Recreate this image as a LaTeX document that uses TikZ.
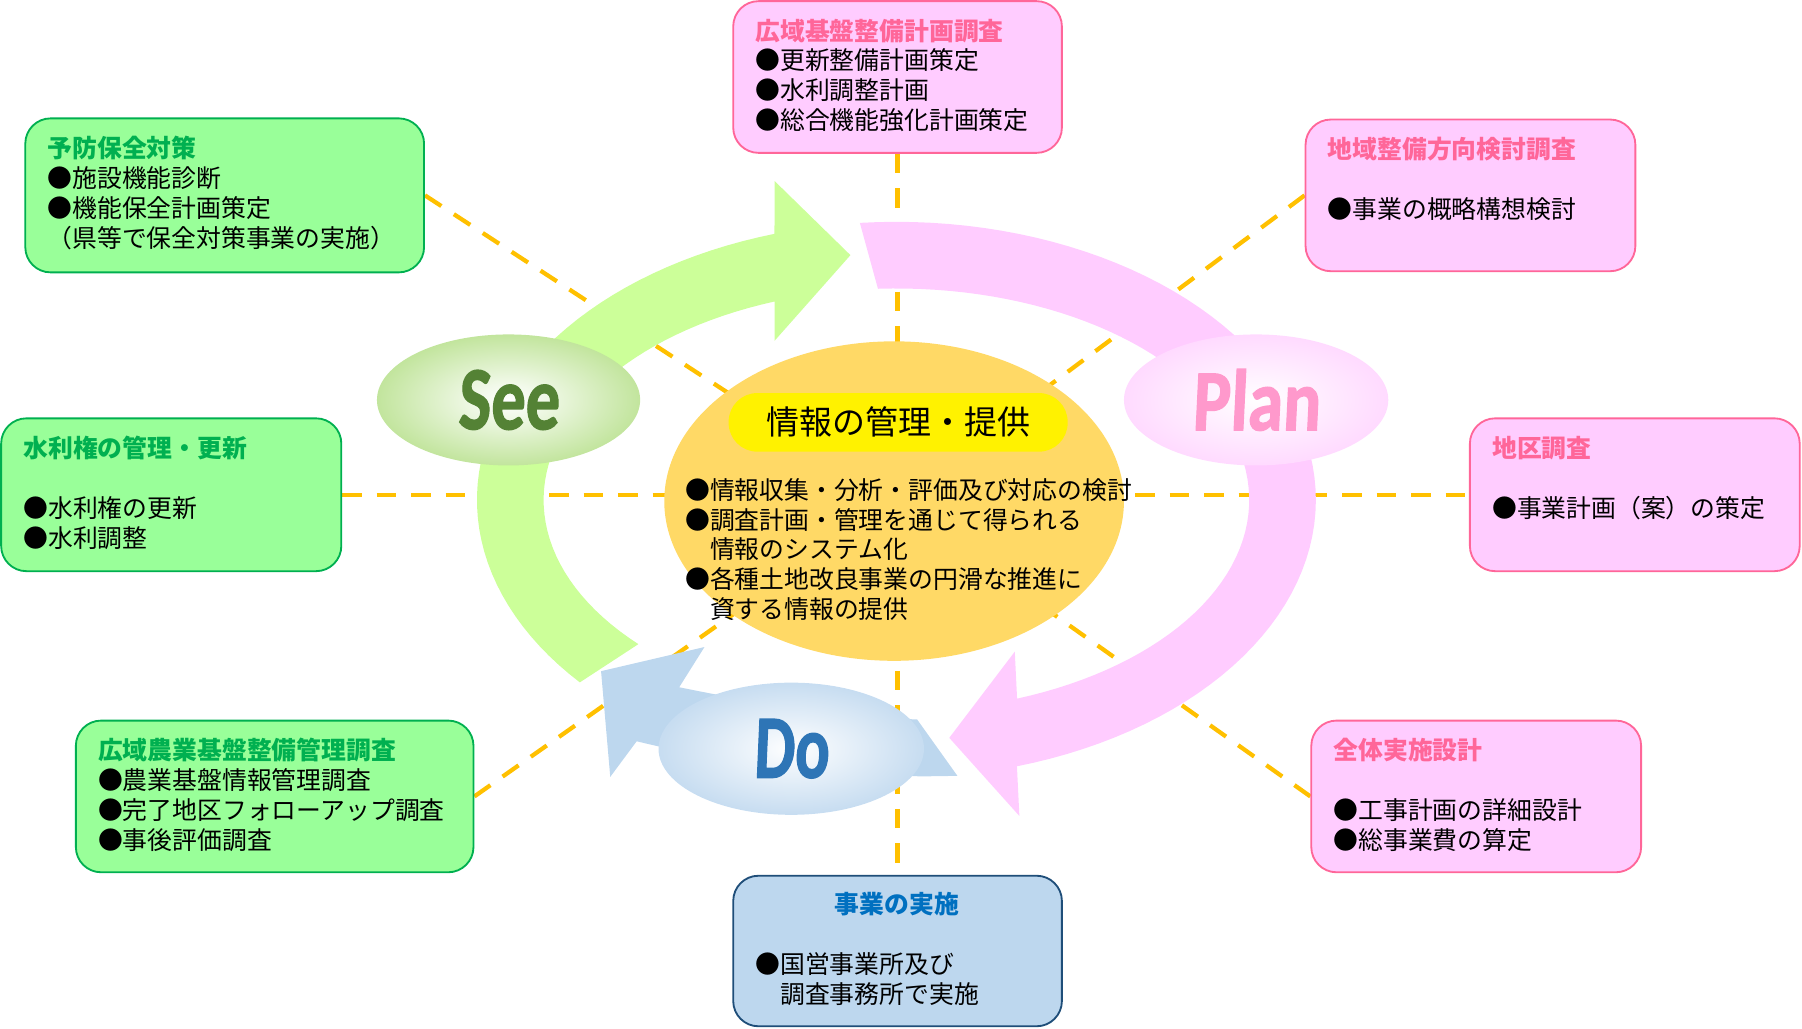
\documentclass[tikz,border=0pt]{standalone}
\usepackage{fontspec}
\usepackage{graphicx}
\setmainfont{Noto Sans CJK JP}
\newfontfamily\pdcafont{Carlito}[BoldFeatures={FakeBold=1.6, FakeSlant=0.06}]
\usetikzlibrary{shapes.geometric,positioning,backgrounds}

\definecolor{boxgreen}{HTML}{99FF99}
\definecolor{linegreen}{HTML}{00B050}
\definecolor{boxpink}{HTML}{FFCCFF}
\definecolor{linepink}{HTML}{FF6699}
\definecolor{boxblue}{HTML}{BDD7EE}
\definecolor{lineblue}{HTML}{1F4E79}
\definecolor{titleblue}{HTML}{0070C0}
\definecolor{dashorange}{HTML}{FFC000}
\definecolor{infoorange}{HTML}{FFD966}
\definecolor{arrowgreen}{HTML}{CCFF99}
\definecolor{arrowpink}{HTML}{FFCCFF}
\definecolor{arrowblue}{HTML}{BDD7EE}
\definecolor{seegreen}{HTML}{92D050}
\definecolor{seetext}{HTML}{548235}
\definecolor{planpink}{HTML}{FFC4FF}
\definecolor{plantext}{HTML}{FF99CC}
\definecolor{doblue}{HTML}{9DC3E6}
\definecolor{dotext}{HTML}{2E75B6}

\pgfdeclareradialshading{seeshade}{\pgfpoint{0bp}{0bp}}{color(0bp)=(white); color(6bp)=(white!88!seegreen); color(44bp)=(seegreen); color(50bp)=(seegreen)}
\pgfdeclareradialshading{planshade}{\pgfpoint{0bp}{0bp}}{color(0bp)=(white); color(6bp)=(white!85!planpink); color(40bp)=(planpink); color(50bp)=(planpink)}
\pgfdeclareradialshading{doshade}{\pgfpoint{0bp}{0bp}}{color(0bp)=(white); color(6bp)=(white!85!doblue); color(44bp)=(doblue); color(50bp)=(doblue)}

\newcommand\boxtitle[2]{{\bfseries\color{#1}#2}}
\newcommand\pdcaword[4]{\scalebox{#3}[#4]{\pdcafont\bfseries\fontsize{70pt}{70pt}\selectfont\color{#1}#2}}

\tikzset{
  gbox/.style={draw=linegreen, fill=boxgreen, line width=1.6pt, rounded corners=22pt, inner sep=0pt},
  pbox/.style={draw=linepink, fill=boxpink, line width=1.6pt, rounded corners=22pt, inner sep=0pt},
  bbox/.style={draw=lineblue, fill=boxblue, line width=1.6pt, rounded corners=22pt, inner sep=0pt},
  boxtext/.style={anchor=north west, inner sep=0pt, align=left, font=\fontsize{21.6pt}{26pt}\selectfont},
  guide/.style={draw=dashorange, line width=3.7pt, dash pattern=on 17pt off 13pt},
  pdca/.style={ellipse, inner sep=0pt},
}

\begin{document}
\begin{tikzpicture}[x=1pt, y=-1pt]
  \useasboundingbox (0,0) rectangle (1568,895);

  % centre
  \node [ellipse, fill=infoorange, minimum width=400pt, minimum height=278pt] (info) at (778,436) {};
  \node [fill=yellow, rounded corners=25pt, minimum width=295pt, minimum height=51pt, inner sep=0pt,
         font=\fontsize{28.7pt}{30pt}\selectfont] (infoTitle) at (781.5,367.5) {情報の管理・提供};
  \node [boxtext] (infoText) at (596,416) {●情報収集・分析・評価及び対応の検討\\●調査計画・管理を通じて得られる\\　情報のシステム化\\●各種土地改良事業の円滑な推進に\\　資する情報の提供};

  % boxes round the cycle
  \node [gbox, minimum width=347pt, minimum height=134pt] (yobou) at (195.5,170) {};
  \node [boxtext] (yobouText) at ([shift={(20,16)}]yobou.north west) {\boxtitle{linegreen}{予防保全対策}\\●施設機能診断\\●機能保全計画策定\\（県等で保全対策事業の実施）};

  \node [gbox, minimum width=296pt, minimum height=133pt] (suiriken) at (149,430.5) {};
  \node [boxtext] (suirikenText) at ([shift={(20,16)}]suiriken.north west) {\boxtitle{linegreen}{水利権の管理・更新}\\[26pt]●水利権の更新\\●水利調整};

  \node [gbox, minimum width=346pt, minimum height=132pt] (kanriChousa) at (239,693) {};
  \node [boxtext] (kanriChousaText) at ([shift={(20,16)}]kanriChousa.north west) {\boxtitle{linegreen}{広域農業基盤整備管理調査}\\●農業基盤情報管理調査\\●完了地区フォローアップ調査\\●事後評価調査};

  \node [pbox, minimum width=286pt, minimum height=132pt] (keikakuChousa) at (781,67) {};
  \node [boxtext] (keikakuChousaText) at ([shift={(20,16)}]keikakuChousa.north west) {\boxtitle{linepink}{広域基盤整備計画調査}\\●更新整備計画策定\\●水利調整計画\\●総合機能強化計画策定};

  \node [pbox, minimum width=287pt, minimum height=132pt] (houkou) at (1279.5,170) {};
  \node [boxtext] (houkouText) at ([shift={(20,16)}]houkou.north west) {\boxtitle{linepink}{地域整備方向検討調査}\\[26pt]●事業の概略構想検討};

  \node [pbox, minimum width=287pt, minimum height=133pt] (chiku) at (1422.5,430.5) {};
  \node [boxtext] (chikuText) at ([shift={(20,16)}]chiku.north west) {\boxtitle{linepink}{地区調査}\\[26pt]●事業計画（案）の策定};

  \node [pbox, minimum width=287pt, minimum height=132pt] (jisshi) at (1284.5,693) {};
  \node [boxtext] (jisshiText) at ([shift={(20,16)}]jisshi.north west) {\boxtitle{linepink}{全体実施設計}\\[26pt]●工事計画の詳細設計\\●総事業費の算定};

  \node [bbox, minimum width=286pt, minimum height=131pt] (jigyou) at (781,827.5) {};
  \node [boxtext] (jigyouText) at ([shift={(20,15)}]jigyou.north west) {\hspace*{69pt}\boxtitle{titleblue}{事業の実施}\\[26pt]●国営事業所及び\\　調査事務所で実施};

  % See / Plan / Do
  \node [pdca, shading=seeshade, minimum width=229pt, minimum height=114pt] (see) at (442.5,348) {\pdcaword{seetext}{See}{0.85}{1.12}};
  \node [pdca, shading=planshade, minimum width=230pt, minimum height=114pt] (plan) at (1093,348) {\pdcaword{plantext}{Plan}{0.88}{1.08}};
  \node [pdca, shading=doshade, minimum width=231pt, minimum height=115pt] (do) at (688.5,651.5) {\pdcaword{dotext}{Do}{0.8}{1.12}};

  \begin{scope}[on background layer]
    \draw [guide] (suiriken.east) -- (chiku.west);
    \draw [guide] (keikakuChousa.south) -- (jigyou.north);
    \draw [guide] (yobou.east) -- (info.center);
    \draw [guide] (houkou.west) -- (info.center);
    \draw [guide] (kanriChousa.east) -- (info.center);
    \draw [guide] (jisshi.west) -- (info.center);

    % See arrow: band on the ring, head at the top
    \fill [arrowgreen] plot [domain=139:253.1, samples=50] ({780+365*cos(\x)},{435+242*sin(\x)})
      -- (674,157.5) -- (740,222) -- (674,296.5)
      -- plot [domain=249.8:137, samples=50] ({780+307*cos(\x)},{435+184*sin(\x)}) -- cycle;
    % Plan arrow: from the top round the right side
    \fill [arrowpink] plot [domain=265:433.3, samples=70] ({780+365*cos(\x)},{435+242*sin(\x)})
      -- (887,710) -- (826,642) -- (883,567)
      -- plot [domain=430:267, samples=70] ({780+307*cos(\x)},{435+184*sin(\x)}) -- cycle;
    % Do arrow
    \fill [arrowblue] (591,598) .. controls (660,612) and (730,624) .. (798,626) -- (833,675)
      .. controls (740,678) and (640,666) .. (554,645) -- (531,676) -- (523,584) -- (613,563) -- cycle;
  \end{scope}
\end{tikzpicture}
\end{document}
